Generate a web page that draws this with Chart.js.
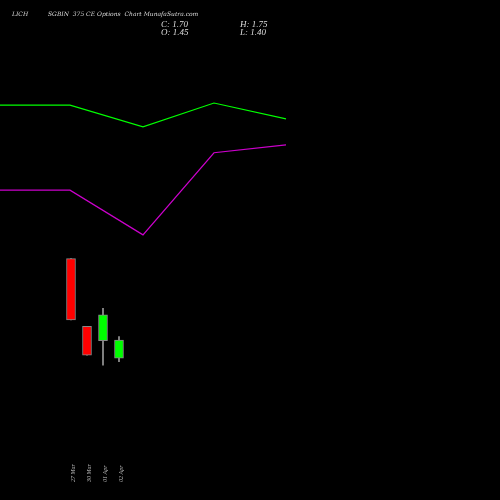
<!DOCTYPE html>
<html><head>
<script src="https://cdn.jsdelivr.net/npm/chart.js@4"></script>
<style>html,body{margin:0;background:#000}#c{width:500px;height:500px}</style>
</head><body>
<div id="c"><canvas id="chart" width="500" height="500"></canvas></div>
<script>
const dates = ['27 Mar', '30 Mar', '01 Apr', '02 Apr'];
const candleX = [71, 87, 103, 119];
const opens = [2.83, 1.89, 1.69, 1.45];
const closes = [1.98, 1.49, 2.05, 1.70];
const highs = [2.83, 1.89, 2.14, 1.75];
const lows = [1.98, 1.49, 1.35, 1.40];
const lineX = [0, 70, 143, 214, 286];
const greenLine = [4.96, 4.96, 4.66, 4.99, 4.77];
const magentaLine = [3.78, 3.78, 3.16, 4.30, 4.41];

const colors = opens.map((o, i) => closes[i] >= o ? '#00ff00' : '#ff0000');

const textPlugin = {
  id: 'texts',
  afterDraw(chart) {
    const ctx = chart.ctx, xs = chart.scales.x;
    ctx.save();
    ctx.fillStyle = '#ddd';
    ctx.font = 'italic 6px "DejaVu Serif", serif';
    ctx.textBaseline = 'middle';
    ctx.fillText('LICH', 12, 14);
    ctx.fillText('SGBIN  375 CE Options  Chart MunafaSutra.com', 48, 14);
    ctx.font = 'italic 9px "Liberation Serif", serif';
    ctx.fillText('C: 1.70', 161, 25);
    ctx.fillText('O: 1.45', 161, 33);
    ctx.fillText('H: 1.75', 240, 25);
    ctx.fillText('L: 1.40', 240, 33);
    ctx.font = 'italic 6px "Liberation Serif", serif';
    ctx.fillStyle = '#bbb';
    dates.forEach((d, i) => {
      ctx.save();
      ctx.translate(xs.getPixelForValue(candleX[i]) + 2, 482);
      ctx.rotate(-Math.PI / 2);
      ctx.textAlign = 'left';
      ctx.fillText(d, 0, 0);
      ctx.restore();
    });
    ctx.restore();
  }
};

new Chart(document.getElementById('chart'), {
  data: {
    datasets: [
      { type: 'line', order: 0, data: lineX.map((x, i) => ({ x, y: greenLine[i] })), borderColor: '#00ff00', borderWidth: 1.2, pointRadius: 0 },
      { type: 'line', order: 0, data: lineX.map((x, i) => ({ x, y: magentaLine[i] })), borderColor: '#cc00cc', borderWidth: 1.2, pointRadius: 0 },
      { type: 'bar', order: 3, data: candleX.map((x, i) => ({ x, y: [lows[i], highs[i]] })), backgroundColor: '#999', barThickness: 1, grouped: false },
      { type: 'bar', order: 2, data: candleX.map((x, i) => ({ x, y: [opens[i], closes[i]] })), backgroundColor: colors, borderColor: '#888', borderWidth: 1, borderSkipped: false, barThickness: 9, grouped: false }
    ]
  },
  options: {
    responsive: false, animation: false,
    layout: { padding: 0 },
    plugins: { legend: { display: false }, tooltip: { enabled: false } },
    scales: {
      x: { type: 'linear', min: 0, max: 500, offset: false, display: false },
      y: { min: -0.52, max: 6.42, display: false }
    }
  },
  plugins: [textPlugin]
});
</script>
</body></html>
